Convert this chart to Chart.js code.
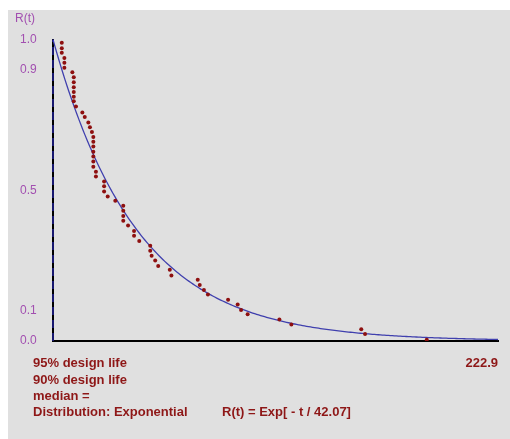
<!DOCTYPE html>
<html>
<head>
<meta charset="utf-8">
<script src="https://cdn.jsdelivr.net/npm/chart.js@4.4.1/dist/chart.umd.min.js"></script>
<style>
  body { margin: 0; background: #fff; font-family: "Liberation Sans", Arial, sans-serif; }
  #panel { position: absolute; left: 8px; top: 10px; width: 502px; height: 429px; background: #e0e0e0; }
  #chart { position: absolute; left: 0; top: 0; }
  .note { position: absolute; font: bold 13px "Liberation Sans", Arial, sans-serif; color: #8e1717; white-space: pre; }
  .axislabel { position: absolute; font: 12px "Liberation Sans", Arial, sans-serif; color: #a24fb0; }
</style>
</head>
<body>
<div id="panel">
  <canvas id="chart" width="502" height="429"></canvas>
  <div class="axislabel" style="left:7px; top:1px;">R(t)</div>
  <div class="note" style="left:25px; top:345px;">95% design life</div>
  <div class="note" style="left:25px; top:362px;">90% design life</div>
  <div class="note" style="left:25px; top:378px;">median =</div>
  <div class="note" style="left:25px; top:394px;">Distribution: Exponential</div>
  <div class="note" style="left:214px; top:394px;">R(t) = Exp[ - t / 42.07]</div>
</div>
<script>
  // observed failure times and their plotted reliability
  const failTimes = [4.4, 4.4, 4.4, 5.7, 5.7, 5.7, 9.7, 10.4, 10.4, 10.4, 10.4, 10.4, 10.4, 11.5,
    14.7, 15.9, 17.7, 18.5, 19.5, 20.2, 20.2, 20.2, 20.2, 20.2, 20.2, 20.2, 21.5, 21.5,
    25.6, 25.6, 25.6, 27.4, 31.2, 35.2, 35.2, 35.2, 35.2, 37.6, 40.6, 40.6, 43.2, 48.7,
    48.7, 49.4, 51.2, 52.7, 58.5, 59.3, 72.5, 73.5, 75.6, 77.6, 87.7, 92.5, 94.2, 97.5,
    113.4, 119.4, 154.4, 156.3, 187.2];
  const reliability = [0.989, 0.971, 0.956, 0.939, 0.923, 0.906, 0.891, 0.875, 0.858, 0.842,
    0.826, 0.810, 0.795, 0.778, 0.758, 0.743, 0.725, 0.709, 0.693, 0.677, 0.661, 0.645,
    0.628, 0.612, 0.595, 0.578, 0.561, 0.546, 0.529, 0.513, 0.496, 0.479, 0.465, 0.449,
    0.432, 0.415, 0.399, 0.383, 0.365, 0.349, 0.332, 0.316, 0.299, 0.283, 0.267, 0.249,
    0.236, 0.217, 0.203, 0.186, 0.169, 0.154, 0.137, 0.121, 0.103, 0.089, 0.071, 0.055,
    0.039, 0.023, 0.004];

  const tMax = 222.9;
  const theta = 42.07;           // fitted exponential parameter shown on chart
  const yTicks = [0, 0.1, 0.5, 0.9, 1.0];
  const xTicks = [222.9];

  // fitted curve R(t) = exp(-t / theta)
  const curve = [];
  for (let t = 0; t <= tMax; t += 1) curve.push({ x: t, y: Math.exp(-t / theta) });
  curve.push({ x: tMax, y: Math.exp(-tMax / theta) });

  const points = failTimes.map((t, i) => ({ x: t, y: reliability[i] }));

  const ctx = document.getElementById('chart').getContext('2d');
  new Chart(ctx, {
    type: 'scatter',
    data: {
      datasets: [{
        label: 'fit',
        data: curve,
        showLine: true,
        borderColor: '#4040ae',
        borderWidth: 1.3,
        pointRadius: 0,
        order: 2
      }, {
        label: 'axis',
        data: [{ x: 0, y: 0 }, { x: 0, y: 1 }],
        showLine: true,
        borderColor: '#3030e0',
        borderWidth: 1,
        borderDash: [8, 5],
        pointRadius: 0,
        clip: false,
        order: 0
      }, {
        label: 'data',
        data: points,
        backgroundColor: '#8e1010',
        borderColor: '#8e1010',
        pointRadius: 2,
        borderWidth: 0,
        order: 1
      }]
    },
    options: {
      responsive: false,
      animation: false,
      layout: { padding: { left: 12, top: 29.5, right: 12, bottom: 0 } },
      plugins: { legend: { display: false }, tooltip: { enabled: false } },
      scales: {
        x: {
          type: 'linear',
          min: 0,
          max: tMax,
          grid: { display: false, drawTicks: false },
          border: { display: true, color: '#000', width: 2 },
          afterBuildTicks: s => { s.ticks = xTicks.map(v => ({ value: v })); },
          afterFit: s => { s.height = 98; s.paddingLeft = 0; s.paddingRight = 0; },
          ticks: {
            align: 'end',
            padding: 15,
            color: '#8e1717',
            font: { family: 'Liberation Sans', size: 13, weight: 'bold' },
            callback: v => v.toFixed(1)
          }
        },
        y: {
          min: 0,
          max: 1,
          grid: { display: false, drawTicks: false },
          border: { display: true, color: '#000', width: 2 },
          afterBuildTicks: s => { s.ticks = yTicks.map(v => ({ value: v })); },
          afterFit: s => { s.width = 33; s.paddingTop = 0; s.paddingBottom = 0; },
          ticks: {
            crossAlign: 'far',
            padding: 0,
            color: '#a24fb0',
            font: { family: 'Liberation Sans', size: 12 },
            callback: v => v.toFixed(1)
          }
        }
      }
    }
  });
</script>
</body>
</html>
